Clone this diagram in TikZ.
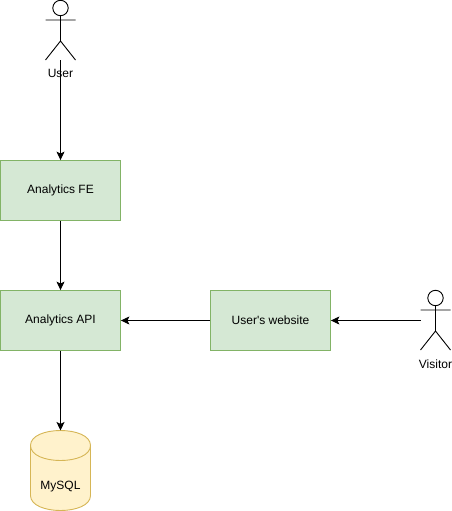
\documentclass[tikz,border=0pt]{standalone}
\usepackage{fontspec}
\setmainfont{Liberation Sans}
\newfontfamily\rawfont{Liberation Sans}
\usetikzlibrary{arrows.meta}
\definecolor{boxfill}{HTML}{D5E8D4}
\definecolor{boxline}{HTML}{82B366}
\definecolor{dbfill}{HTML}{FFF2CC}
\definecolor{dbline}{HTML}{D6B656}
\tikzset{
  svc/.style={draw=boxline,fill=boxfill,line width=0.8pt,minimum width=120pt,minimum height=60pt,inner sep=0pt,font=\rawfont\fontsize{12}{14}\selectfont,text=black},
  lbl/.style={inner sep=0pt,font=\rawfont\fontsize{12}{14}\selectfont,text=black},
  conn/.style={draw=black,line width=0.9pt,-{Stealth[length=8.5pt,width=8pt,inset=2pt]}},
  figure/.style={draw=black,line width=0.9pt},
  dbshape/.style={draw=dbline,fill=dbfill,line width=0.9pt}
}
\newcommand{\stick}[2]{% x, head centre y
  \draw[figure,fill=white] (#1,#2) circle[radius=7.7pt];
  \draw[figure] (#1,#2+7.7) -- (#1,#2+33) (#1-15,#2+12) -- (#1+15,#2+12)
    (#1-15,#2+52) -- (#1,#2+33) -- (#1+15,#2+52);
}
\begin{document}
\begin{tikzpicture}[x=1pt,y=-1pt]
\useasboundingbox (0,0) rectangle (452,511);
\fill[white] (0,0) rectangle (452,511);
% actors
\stick{60.5}{8}
\stick{435.5}{298}
\coordinate (userfoot) at (60.5,60.5);
\coordinate (visitorhand) at (420.5,320.5);
\node[lbl] (userlabel) at (60.5,73) {User};
\node[lbl] (visitorlabel) at (435.5,364) {Visitor};
% database
\path[dbshape] (30.5,445.5) .. controls (30.5,425.5) and (90.5,425.5) .. (90.5,445.5)
  -- (90.5,495.5) .. controls (90.5,515.5) and (30.5,515.5) .. (30.5,495.5) -- cycle;
\draw[draw=dbline,line width=0.9pt] (30.5,445.5) .. controls (30.5,465.5) and (90.5,465.5) .. (90.5,445.5);
\coordinate (dbtop) at (60.5,430.5);
\node[lbl] (mysql) at (60.5,486.5) {MySQL};
% services
\node[svc] (fe) at (60.5,190.5) {Analytics FE};
\node[svc] (api) at (60.5,320.5) {Analytics API};
\node[svc] (site) at (270.5,320.5) {User's website};
% connectors
\draw[conn] (userfoot) -- (fe.north);
\draw[conn] (fe.south) -- (api.north);
\draw[conn] (api.south) -- (dbtop);
\draw[conn] (site.west) -- (api.east);
\draw[conn] (visitorhand) -- (site.east);
\end{tikzpicture}
\end{document}
